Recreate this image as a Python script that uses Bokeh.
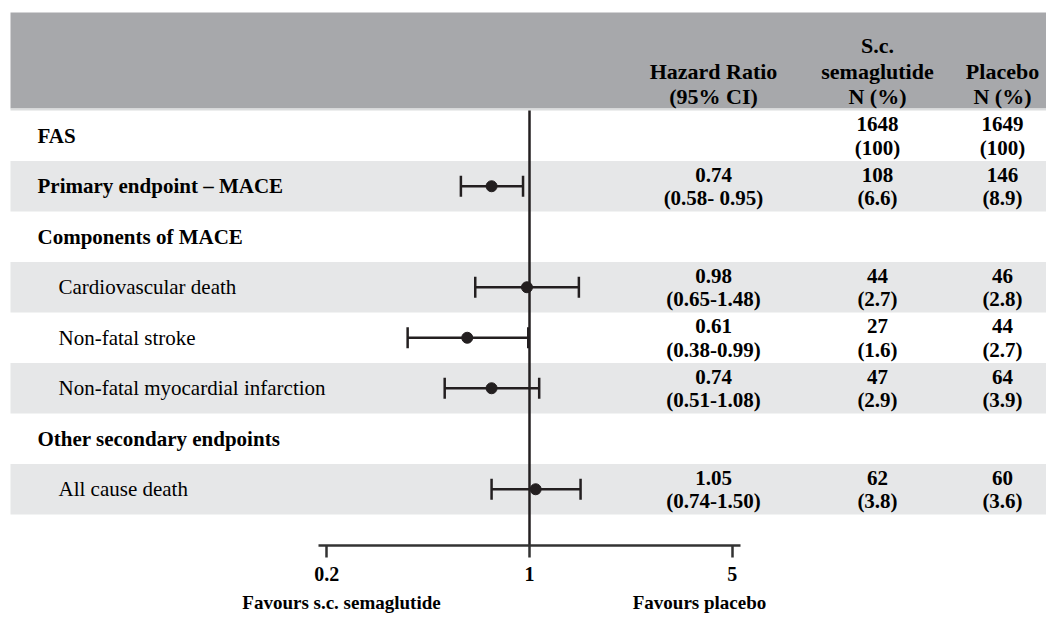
import math
from bokeh.plotting import figure
from bokeh.models import (Range1d, ColumnDataSource, LabelSet, BoxAnnotation,
                          Whisker, TeeHead, FixedTicker, LogAxis)
from bokeh.embed import file_html
from bokeh.resources import INLINE

# ---------------- data ----------------
row_labels = ["FAS", "Primary endpoint \u2013 MACE", "Components of MACE",
              "Cardiovascular death", "Non-fatal stroke", "Non-fatal myocardial infarction",
              "Other secondary endpoints", "All cause death"]
row_is_heading = [True, True, True, False, False, False, True, False]
hr = [None, 0.74, None, 0.98, 0.61, 0.74, None, 1.05]
ci_lo = [None, 0.58, None, 0.65, 0.38, 0.51, None, 0.74]
ci_hi = [None, 0.95, None, 1.48, 0.99, 1.08, None, 1.50]
ci_labels = ["", "(0.58- 0.95)", "", "(0.65-1.48)", "(0.38-0.99)", "(0.51-1.08)", "", "(0.74-1.50)"]
sema_n = [1648, 108, None, 44, 27, 47, None, 62]
sema_pct = [100, 6.6, None, 2.7, 1.6, 2.9, None, 3.8]
plac_n = [1649, 146, None, 46, 44, 64, None, 60]
plac_pct = [100, 8.9, None, 2.8, 2.7, 3.9, None, 3.6]
ref_hr = 1.0
tick_values = [0.2, 1, 5]
tick_labels = ["0.2", "1", "5"]
favours_left = "Favours s.c. semaglutide"
favours_right = "Favours placebo"

# ---------------- layout constants ----------------
W, H = 1046, 620
FRAME_H = 545
BORDER_BOTTOM = H - FRAME_H
ROW_PX = 50.5
ROW0_PX = 135.25          # centre of first row, canvas px from top
PX_PER_DECADE = 290.0
X_ONE_PX = 529.0          # canvas x of HR = 1

def ypx(py):
    return (py - ROW0_PX) / ROW_PX

def xval(px):
    return 10 ** ((px - X_ONE_PX) / PX_PER_DECADE)

y_top = ypx(0)
y_bottom = ypx(FRAME_H)
x_start = xval(0)
x_end = xval(W)

SERIF = "'Liberation Serif'"
INK = "#231F20"
HEADER_GREY = "#A7A8AB"
BAND_GREY = "#E6E7E8"

p = figure(width=W, height=H, x_axis_type="log",
           x_range=Range1d(x_start, x_end), y_range=Range1d(y_bottom, y_top),
           output_backend="svg", toolbar_location=None,
           min_border_left=0, min_border_right=0, min_border_top=0,
           min_border_bottom=BORDER_BOTTOM, y_axis_location=None)
p.outline_line_color = None
p.xgrid.visible = False
p.ygrid.visible = False
p.background_fill_color = "white"
p.border_fill_color = "white"

# header band
p.add_layout(BoxAnnotation(top=ypx(12), bottom=ypx(108), left=10, left_units="screen",
                           fill_color=HEADER_GREY, fill_alpha=1, line_color=None, level="underlay"))
p.add_layout(BoxAnnotation(top=ypx(108), bottom=ypx(110), left=10, left_units="screen",
                           fill_color="#DCDDDE", fill_alpha=1, line_color=None, level="underlay"))
# alternating row bands
for i in range(len(row_labels)):
    if i % 2 == 1:
        p.add_layout(BoxAnnotation(top=i - 0.5, bottom=i + 0.5, left=10, left_units="screen",
                                   fill_color=BAND_GREY, fill_alpha=1, line_color=None,
                                   level="underlay"))

# reference line at HR = 1
p.segment(x0=[ref_hr], y0=[-0.5], x1=[ref_hr], y1=[y_bottom], line_color=INK, line_width=2.5)

# forest marks
idx = [i for i in range(len(hr)) if hr[i] is not None]
fsrc = ColumnDataSource(dict(y=idx, hr=[hr[i] for i in idx],
                             lo=[ci_lo[i] for i in idx], hi=[ci_hi[i] for i in idx]))
p.add_layout(Whisker(source=fsrc, base="y", lower="lo", upper="hi", dimension="width",
                     line_color=INK, line_width=2.5,
                     lower_head=TeeHead(size=21, line_color=INK, line_width=2.5),
                     upper_head=TeeHead(size=21, line_color=INK, line_width=2.5)))
p.scatter(x="hr", y="y", source=fsrc, size=11, fill_color=INK, line_color=INK)

# x axis
ax = p.xaxis[0]
ax.ticker = FixedTicker(ticks=tick_values, minor_ticks=[])
ax.major_label_overrides = {v: t for v, t in zip(tick_values, tick_labels)}
ax.bounds = (min(xval(325), tick_values[0] * 10 ** (-8 / PX_PER_DECADE)),
             max(xval(730), tick_values[-1] * 10 ** (8 / PX_PER_DECADE)))
ax.axis_line_width = 2.5
ax.axis_line_color = "#333333"
ax.major_tick_line_width = 2.5
ax.major_tick_line_color = "#333333"
ax.major_tick_out = 12
ax.major_tick_in = 0
ax.minor_tick_out = 0
ax.minor_tick_in = 0
ax.major_label_standoff = 9
ax.major_label_text_font = SERIF
ax.major_label_text_font_style = "bold"
ax.major_label_text_font_size = "20px"
ax.major_label_text_color = "black"

# second axis carrying the "Favours" captions
fav_pos = [xval(341), xval(699)]
ax2 = LogAxis(ticker=FixedTicker(ticks=fav_pos, minor_ticks=[]),
              major_label_overrides={fav_pos[0]: favours_left, fav_pos[1]: favours_right},
              axis_line_color=None, major_tick_line_color=None, minor_tick_line_color=None,
              major_tick_out=0, major_tick_in=0, minor_tick_out=0, minor_tick_in=0,
              major_label_standoff=8, major_label_text_font=SERIF,
              major_label_text_font_style="bold", major_label_text_font_size="19px",
              major_label_text_color="black")
p.add_layout(ax2, "below")

# row labels
bold_rows = [i for i in range(len(row_labels)) if row_is_heading[i]]
plain_rows = [i for i in range(len(row_labels)) if not row_is_heading[i]]
p.add_layout(LabelSet(source=ColumnDataSource(dict(x=[37] * len(bold_rows), y=bold_rows,
                                                   t=[row_labels[i] for i in bold_rows])),
                      x="x", y="y", text="t", x_units="screen", text_align="left",
                      text_baseline="middle", text_font=SERIF, text_font_style="bold",
                      text_font_size="21px", text_color="black"))
p.add_layout(LabelSet(source=ColumnDataSource(dict(x=[58] * len(plain_rows), y=plain_rows,
                                                   t=[row_labels[i] for i in plain_rows])),
                      x="x", y="y", text="t", x_units="screen", text_align="left",
                      text_baseline="middle", text_font=SERIF, text_font_style="normal",
                      text_font_size="21px", text_color="black"))

# table columns
COLS = {"hr": 713, "sema": 877, "plac": 1002}
LINE_OFF = 11.75 / ROW_PX

def fmt_pct(v):
    return f"({v:g})"

tx, ty, tt = [], [], []
for i in range(len(row_labels)):
    if hr[i] is not None:
        tx += [COLS["hr"], COLS["hr"]]
        ty += [i - LINE_OFF, i + LINE_OFF]
        tt += [f"{hr[i]:.2f}", ci_labels[i]]
    if sema_n[i] is not None:
        tx += [COLS["sema"], COLS["sema"]]
        ty += [i - LINE_OFF, i + LINE_OFF]
        tt += [str(sema_n[i]), fmt_pct(sema_pct[i])]
    if plac_n[i] is not None:
        tx += [COLS["plac"], COLS["plac"]]
        ty += [i - LINE_OFF, i + LINE_OFF]
        tt += [str(plac_n[i]), fmt_pct(plac_pct[i])]
p.add_layout(LabelSet(source=ColumnDataSource(dict(x=tx, y=ty, t=tt)), x="x", y="y", text="t",
                      x_units="screen", text_align="center", text_baseline="middle",
                      text_font=SERIF, text_font_style="bold", text_font_size="21px",
                      text_color="black"))

# header texts
hx = [COLS["hr"], COLS["hr"], COLS["sema"], COLS["sema"], COLS["sema"], COLS["plac"], COLS["plac"]]
hy = [ypx(71), ypx(96), ypx(45), ypx(71), ypx(96), ypx(71), ypx(96)]
ht = ["Hazard Ratio", "(95% CI)", "S.c.", "semaglutide", "N (%)", "Placebo", "N (%)"]
p.add_layout(LabelSet(source=ColumnDataSource(dict(x=hx, y=hy, t=ht)), x="x", y="y", text="t",
                      x_units="screen", text_align="center", text_baseline="middle",
                      text_font=SERIF, text_font_style="bold", text_font_size="22px",
                      text_color="black"))

open("out.html", "w").write(file_html(p, INLINE))
